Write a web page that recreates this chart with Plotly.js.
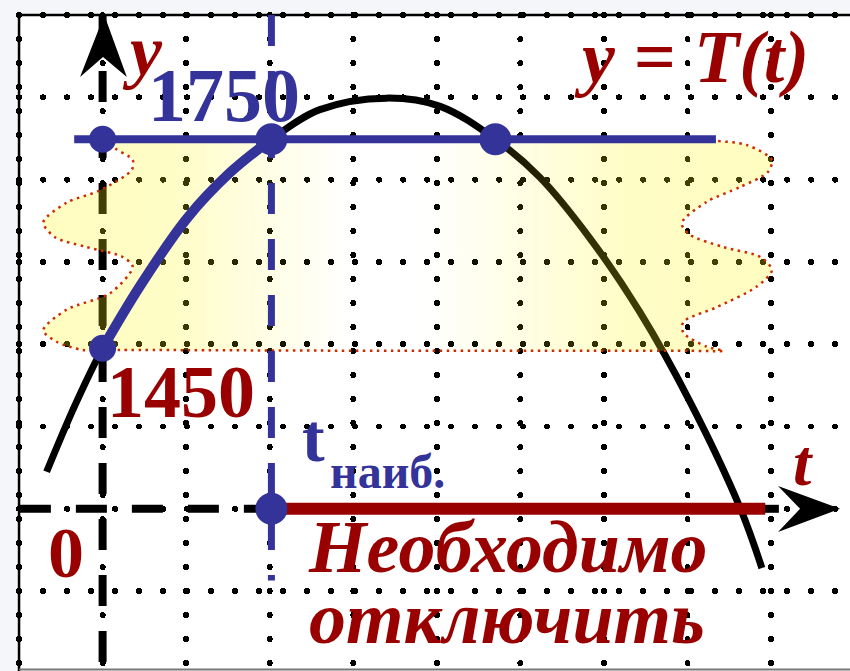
<!DOCTYPE html>
<html>
<head>
<meta charset="utf-8">
<script src="https://cdn.plot.ly/plotly-3.0.1.min.js"></script>
<style>html,body{margin:0;padding:0;background:#f4f6f9;}#chart{width:850px;height:671px;}</style>
</head>
<body>
<div id="chart"></div>
<script>
// ---- data (grid units: t along the time axis, y along the vertical axis) ----
const curveT = [-0.67, -0.33, 0.00, 0.45, 1.01, 1.53, 2.02, 2.60, 3.40, 4.04, 4.70, 5.23, 5.83, 6.43, 7.03, 7.63, 7.89];
const curveY = [0.45, 1.26, 1.95, 2.71, 3.53, 4.09, 4.49, 4.85, 4.99, 4.89, 4.49, 4.03, 3.29, 2.39, 1.30, 0.01, -0.72];
const tOpt = 2.02;          // t наиб.
const tRight = 4.70;        // second crossing of 1750
const level1750 = 4.49;
const level1450 = 1.95;
const labelHigh = "1750";
const labelLow = "1450";
const labelZero = "0";
const levelLineT = [-0.34, 7.34];
const offLineT = [2.02, 7.93];
const bandT = [0.07, 0.5, 3.5, 6.9, 7.33, 7.71, 8.01, 7.96, 7.63, 7.23, 6.93, 7.03, 7.43, 7.87, 8.01, 7.83, 7.35, 6.95, 6.95, 7.23, 7.43, 7.0, 3.5, 0.2, -0.24, -0.55, -0.71, -0.43, 0.09, 0.36, 0.24, -0.19, -0.57, -0.71, -0.43, -0.03, 0.35, 0.36, 0.15, 0.07];
const bandY = [4.47, 4.47, 4.47, 4.47, 4.47, 4.42, 4.24, 4.09, 3.91, 3.73, 3.47, 3.33, 3.18, 3.06, 2.90, 2.70, 2.45, 2.27, 2.14, 1.97, 1.92, 1.92, 1.92, 1.93, 1.93, 2.03, 2.17, 2.42, 2.62, 2.94, 3.06, 3.18, 3.30, 3.48, 3.72, 3.87, 4.12, 4.24, 4.38, 4.47];
const gridT = [-1, 0, 1, 2, 3, 4, 5, 6, 7, 8];
const gridY = [-1, 0, 1, 2, 3, 4, 5, 6];

const RED = '#990000', BLUE = '#333399';
const XR = [-1.2279, 8.9444], YR = [-1.9708, 6.1823];
const serif = 'Liberation Serif, Times New Roman, serif';

const hi = curveT.map((t, i) => i).filter(i => curveT[i] >= 0 && curveT[i] <= tOpt);

const data = [
  // y axis (dashed)
  {x: [0, 0], y: [6.0, YR[0]], mode: 'lines', line: {color: '#000', width: 8, dash: '31px,25px'}},
  // t axis (dashed)
  {x: [-0.99, 8.11], y: [0, 0], mode: 'lines', line: {color: '#000', width: 8, dash: '31px,25px'}},
  // parabola
  {x: curveT, y: curveY, mode: 'lines', line: {color: '#000', width: 7, shape: 'spline', smoothing: 1}},
  // yellow band
  {x: bandT, y: bandY, mode: 'lines', fill: 'toself',
   line: {color: '#cc2a00', width: 2.5, dash: '2.5px,4.5px', shape: 'spline', smoothing: 0.8},
   fillgradient: {type: 'horizontal', colorscale: [
     [0, 'rgba(255,245,20,0.27)'], [0.18, 'rgba(255,245,20,0.24)'], [0.42, 'rgba(255,245,20,0)'],
     [0.52, 'rgba(255,245,20,0)'], [0.8, 'rgba(255,245,20,0.24)'], [1, 'rgba(255,245,20,0.27)']]}},
  // blue dashed vertical at t наиб.
  {x: [tOpt, tOpt], y: [6.0, -0.87], mode: 'lines', line: {color: BLUE, width: 7, dash: '31px,25px'}},
  // red segment on t axis
  {x: offLineT, y: [0, 0], mode: 'lines', line: {color: RED, width: 12}},
  // 1750 level line
  {x: levelLineT, y: [level1750, level1750], mode: 'lines', line: {color: BLUE, width: 8}},
  // highlighted part of curve
  {x: hi.map(i => curveT[i]), y: hi.map(i => curveY[i]), mode: 'lines', line: {color: BLUE, width: 10, shape: 'spline', smoothing: 1}},
  // points
  {x: [0, 0], y: [level1750, level1450], mode: 'markers', marker: {color: BLUE, size: 27}},
  {x: [tOpt, tRight, tOpt], y: [level1750, level1750, 0], mode: 'markers', marker: {color: BLUE, size: 32}}
];

function txt(text, x, y, size, color, bold, italic) {
  return {text: text, x: x, y: y, xref: 'x', yref: 'y', showarrow: false, xanchor: 'center', yanchor: 'middle',
    font: {family: serif, size: size, color: color, weight: bold ? 'bold' : 'normal', style: italic ? 'italic' : 'normal'}};
}

const layout = {
  width: 850, height: 671, margin: {l: 0, r: 0, t: 0, b: 0}, showlegend: false,
  paper_bgcolor: '#f4f6f9', plot_bgcolor: '#f4f6f9',
  xaxis: {range: XR, tickmode: 'array', tickvals: gridT, showticklabels: false, ticks: '', zeroline: false, showline: false,
    showgrid: true, gridcolor: '#000', gridwidth: 6, griddash: '0.1px,23.9px', fixedrange: true},
  yaxis: {range: YR, tickmode: 'array', tickvals: gridY, showticklabels: false, ticks: '', zeroline: false, showline: false,
    showgrid: true, gridcolor: '#000', gridwidth: 6, griddash: '0.1px,23.9px', fixedrange: true},
  shapes: [
    {type: 'rect', layer: 'below', xref: 'x', yref: 'y', x0: -1, x1: XR[1], y0: YR[0], y1: 6, fillcolor: '#ffffff', line: {width: 0}},
    {type: 'line', layer: 'below', xref: 'x', yref: 'y', x0: -1, x1: XR[1], y0: 6, y1: 6, line: {color: '#000', width: 2.5}},
    {type: 'line', layer: 'below', xref: 'x', yref: 'y', x0: -1, x1: -1, y0: YR[0], y1: 6, line: {color: '#000', width: 2.5}},
    {type: 'line', layer: 'below', xref: 'x', yref: 'y', x0: -1, x1: XR[1], y0: -1.953, y1: -1.953, line: {color: '#777', width: 2}},
    // arrowheads
    {type: 'path', layer: 'above', xref: 'x', yref: 'y', path: 'M0.02,6.0 L-0.27,5.247 L0.005,5.49 L0.29,5.247 Z', fillcolor: '#000', line: {width: 0}},
    {type: 'path', layer: 'above', xref: 'x', yref: 'y', path: 'M8.826,0 L8.083,0.277 L8.347,0 L8.083,-0.282 Z', fillcolor: '#000', line: {width: 0}}
  ],
  annotations: [
    txt('y', 0.472, 5.557, 72, RED, true, true),
    txt(labelHigh, 1.447, 5.023, 76, BLUE, true, false),
    txt(labelLow, 0.944, 1.419, 74, RED, true, false),
    txt(labelZero, -0.444, -0.533, 72, RED, true, false),
    txt('t', 2.524, 0.860, 68, BLUE, true, false),
    txt('наиб.', 3.409, 0.450, 48, BLUE, true, false),
    txt('t', 8.376, 0.560, 66, RED, true, true),
    txt('y = T(t)', 7.053, 5.490, 74, RED, true, true),
    txt('Необходимо', 4.852, -0.464, 74, RED, true, true),
    txt('отключить', 4.834, -1.327, 74, RED, true, true)
  ]
};

Plotly.newPlot('chart', data, layout, {staticPlot: true, displayModeBar: false}).then(function (gd) {
  gd.querySelectorAll('path.xgrid').forEach(function (p) { p.style.strokeLinecap = 'round'; p.style.strokeDashoffset = '9px'; });
  gd.querySelectorAll('path.ygrid').forEach(function (p) { p.style.strokeLinecap = 'round'; p.style.strokeDashoffset = '5px'; });
});
</script>
</body>
</html>
